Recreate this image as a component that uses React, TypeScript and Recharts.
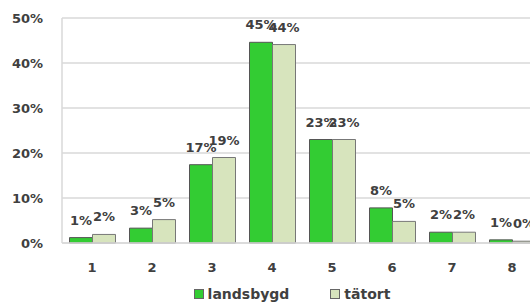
import { BarChart, Bar, XAxis, YAxis, CartesianGrid, Legend, LabelList } from "recharts";

const categories = ["1", "2", "3", "4", "5", "6", "7", "8"];
const landsbygd = [1.2, 3.3, 17.4, 44.6, 23, 7.8, 2.4, 0.7];
const tatort = [1.9, 5.2, 19, 44.1, 23, 4.8, 2.4, 0.4];
const yTicks = [0, 10, 20, 30, 40, 50];

const data = categories.map((c, i) => ({
    name: c,
    landsbygd: landsbygd[i],
    tatort: tatort[i],
}));

const FONT = "'DejaVu Sans', sans-serif";
const TEXT = "#404040";
const GRID = "#d9d9d9";

const renderLabel = (props: any) => {
    const { x, y, width, value } = props;
    return (
        <text
            x={x + width / 2}
            y={y - 13}
            textAnchor="middle"
            fontFamily={FONT}
            fontWeight="bold"
            fontSize={13}
            fill={TEXT}
        >
            {Math.round(value)}%
        </text>
    );
};

const renderLegend = (props: any) => {
    const { payload } = props;
    return (
        <div
            style={{
                display: "flex",
                justifyContent: "center",
                alignItems: "center",
                height: 22,
                gap: 41,
                fontFamily: FONT,
                fontWeight: "bold",
                fontSize: 14,
                color: TEXT,
            }}
        >
            {payload.map((entry: any) => (
                <div key={entry.value} style={{ display: "flex", alignItems: "center" }}>
                    <span
                        style={{
                            width: 8,
                            height: 8,
                            background: entry.color,
                            border: "1px solid #666",
                            marginRight: 4,
                        }}
                    />
                    <span>{entry.value}</span>
                </div>
            ))}
        </div>
    );
};

export default function App() {
    return (
        <div style={{ position: "absolute", left: 0, top: 0, width: 530, height: 305, overflow: "hidden", background: "#fff" }}>
            <BarChart
                width={584}
                height={305}
                data={data}
                margin={{ top: 18, right: 42, bottom: 0, left: 0 }}
                barCategoryGap="12.5%"
                barGap={0}
            >
                <CartesianGrid vertical={false} stroke={GRID} strokeWidth={1.5} />
                <XAxis
                    dataKey="name"
                    height={40}
                    tickLine={false}
                    tickSize={0}
                    tickMargin={20}
                    axisLine={{ stroke: GRID, strokeWidth: 1.5 }}
                    tick={{ fontFamily: FONT, fontWeight: "bold", fontSize: 13, fill: TEXT }}
                />
                <YAxis
                    width={62}
                    domain={[0, 50]}
                    ticks={yTicks}
                    tickFormatter={(v) => `${v}%`}
                    tickLine={false}
                    tickSize={0}
                    tickMargin={19}
                    axisLine={{ stroke: GRID, strokeWidth: 1.5 }}
                    tick={{ fontFamily: FONT, fontWeight: "bold", fontSize: 13, fill: TEXT }}
                />
                <Legend
                    verticalAlign="bottom"
                    content={renderLegend}
                    wrapperStyle={{ left: 0, width: 584 }}
                />
                <Bar dataKey="landsbygd" name="landsbygd" fill="#33cc33" stroke="#555" strokeWidth={1} isAnimationActive={false}>
                    <LabelList dataKey="landsbygd" content={renderLabel} />
                </Bar>
                <Bar dataKey="tatort" name="tätort" fill="#d7e4bd" stroke="#777" strokeWidth={1} isAnimationActive={false}>
                    <LabelList dataKey="tatort" content={renderLabel} />
                </Bar>
            </BarChart>
        </div>
    );
}
